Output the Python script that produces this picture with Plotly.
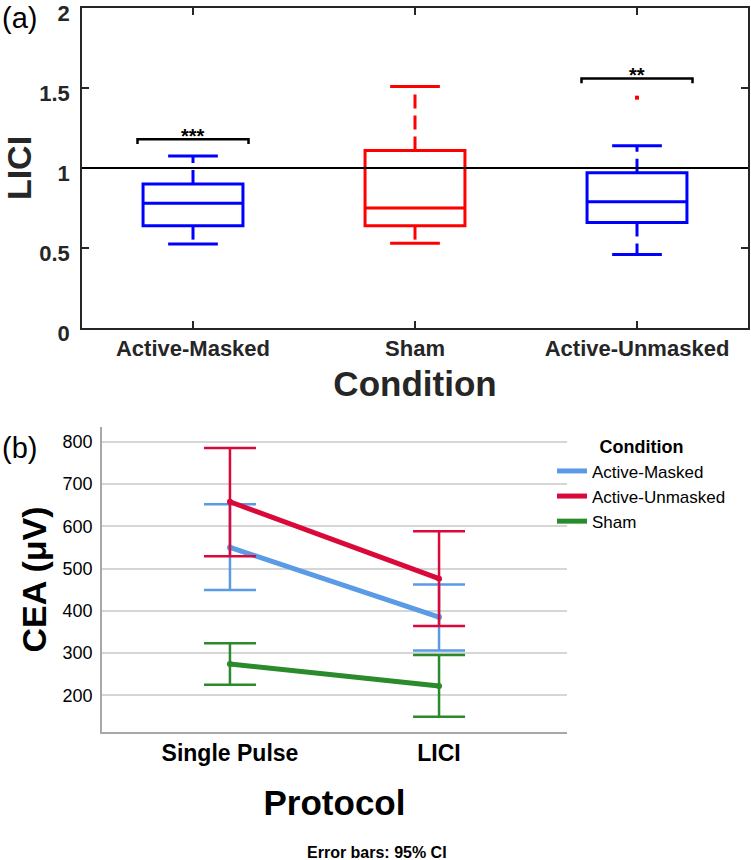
import plotly.graph_objects as go

# ---------------- Panel (a) data: LICI box plots ----------------
conditions_a = ["Active-Masked", "Sham", "Active-Unmasked"]
positions_a = [1, 2, 3]
box_colors = ["#0000FF", "#FF0000", "#0000FF"]
lici_q1 = [0.64, 0.64, 0.66]
lici_median = [0.78, 0.75, 0.79]
lici_q3 = [0.90, 1.11, 0.97]
lici_lower = [0.525, 0.53, 0.46]
lici_upper = [1.075, 1.51, 1.14]
outlier_pos = [3]
outlier_val = [1.44]
reference_line = 1.0
sig_pos = [1, 3]
sig_level = [1.18, 1.56]
sig_text = ["***", "**"]
yticks_a = [0, 0.5, 1, 1.5, 2]
yticktext_a = ["0", "0.5", "1", "1.5", "2"]

# ---------------- Panel (b) data: CEA means with 95% CI ----------------
protocols = ["Single Pulse", "LICI"]
groups_b = ["Active-Masked", "Active-Unmasked", "Sham"]
colors_b = ["#5B9BE6", "#D90A3A", "#2B8A2B"]
cea_mean = {
    "Active-Masked": [550, 385],
    "Active-Unmasked": [658, 476],
    "Sham": [274, 222],
}
cea_upper = {
    "Active-Masked": [652, 462],
    "Active-Unmasked": [785, 588],
    "Sham": [323, 295],
}
cea_lower = {
    "Active-Masked": [449, 306],
    "Active-Unmasked": [529, 364],
    "Sham": [225, 149],
}
yticks_b = [200, 300, 400, 500, 600, 700, 800]

W, H = 751, 860
FONT = "Liberation Sans, Arial, sans-serif"
AX_A = "#262626"

fig = go.Figure()

# ---- boxes (panel a) ----
box_w = 0.45
cap_half = 0.112
for i, cond in enumerate(conditions_a):
    c = positions_a[i]
    col = box_colors[i]
    fig.add_trace(go.Box(
        x=[c], q1=[lici_q1[i]], median=[lici_median[i]], q3=[lici_q3[i]],
        lowerfence=[lici_q1[i]], upperfence=[lici_q3[i]],
        width=box_w, whiskerwidth=0, boxpoints=False,
        line=dict(color=col, width=3), fillcolor="rgba(0,0,0,0)",
        name=cond, showlegend=False, xaxis="x", yaxis="y", hoverinfo="skip"))
    # dashed whiskers
    fig.add_trace(go.Scatter(
        x=[c, c, None, c, c],
        y=[lici_q3[i], lici_upper[i], None, lici_q1[i], lici_lower[i]],
        mode="lines", line=dict(color=col, width=3, dash="14px,7px"),
        showlegend=False, xaxis="x", yaxis="y", hoverinfo="skip"))
    # caps
    fig.add_trace(go.Scatter(
        x=[c - cap_half, c + cap_half, None, c - cap_half, c + cap_half],
        y=[lici_upper[i], lici_upper[i], None, lici_lower[i], lici_lower[i]],
        mode="lines", line=dict(color=col, width=3),
        showlegend=False, xaxis="x", yaxis="y", hoverinfo="skip"))

fig.add_trace(go.Scatter(
    x=outlier_pos, y=outlier_val, mode="markers",
    marker=dict(color="#FF0000", size=4, symbol="square"),
    showlegend=False, xaxis="x", yaxis="y", hoverinfo="skip"))

# significance brackets
br_half = 0.25
br_drop = 0.03
for p, lvl, txt in zip(sig_pos, sig_level, sig_text):
    fig.add_trace(go.Scatter(
        x=[p - br_half, p - br_half, p + br_half, p + br_half],
        y=[lvl - br_drop, lvl, lvl, lvl - br_drop],
        mode="lines", line=dict(color="black", width=2.5),
        showlegend=False, xaxis="x", yaxis="y", hoverinfo="skip"))
    fig.add_annotation(x=p, y=lvl, xref="x", yref="y", text=txt,
                       showarrow=False, yanchor="bottom", yshift=-10,
                       font=dict(family=FONT, size=20, color="black", weight="bold"))

fig.add_shape(type="line", xref="x domain", yref="y", x0=0, x1=1,
              y0=reference_line, y1=reference_line,
              line=dict(color="black", width=2))

# ---- panel b ----
for g, col in zip(groups_b, colors_b):
    m = cea_mean[g]
    up = [u - v for u, v in zip(cea_upper[g], m)]
    lo = [v - l for v, l in zip(m, cea_lower[g])]
    fig.add_trace(go.Scatter(
        x=[0, 1], y=m, mode="lines+markers", name=g, legendgroup=g,
        line=dict(color=col, width=5), marker=dict(color=col, size=6),
        error_y=dict(type="data", symmetric=False, array=up, arrayminus=lo,
                     color=col, thickness=2.5, width=26),
        showlegend=False, xaxis="x2", yaxis="y2"))
for g, col in zip(groups_b, colors_b):
    fig.add_trace(go.Scatter(
        x=[None], y=[None], mode="lines", name=g, legendgroup=g,
        line=dict(color=col, width=5), showlegend=True,
        xaxis="x2", yaxis="y2"))

def px_x(v):
    return v / W

def px_y(v):
    return 1 - v / H

fig.update_layout(
    width=W, height=H,
    margin=dict(l=0, r=0, t=0, b=0),
    paper_bgcolor="white", plot_bgcolor="white",
    font=dict(family=FONT, color="black"),
    xaxis=dict(
        domain=[px_x(82), px_x(748)], range=[0.5, 3.5], anchor="y",
        tickvals=positions_a, ticktext=conditions_a,
        ticks="inside", ticklen=7, tickwidth=1.5, tickcolor=AX_A,
        showline=True, linecolor=AX_A, linewidth=1.5, mirror="ticks",
        showgrid=False, zeroline=False, automargin=False,
        tickfont=dict(family=FONT, size=22, color=AX_A, weight="bold"),
        title=dict(text="Condition", standoff=11,
                   font=dict(family=FONT, size=35, color=AX_A, weight="bold"))),
    yaxis=dict(
        domain=[px_y(328), px_y(8)], range=[0, 2.0005], anchor="x",
        tickvals=yticks_a, ticktext=yticktext_a,
        ticks="inside", ticklen=7, tickwidth=1.5, tickcolor=AX_A,
        showline=True, linecolor=AX_A, linewidth=1.5, mirror="ticks",
        showgrid=False, zeroline=False, automargin=False,
        ticklabelstandoff=6, ticklabeloverflow="allow", ticklabelshift=5,
        tickfont=dict(family=FONT, size=22, color=AX_A, weight="bold"),
        title=dict(text="LICI", standoff=8,
                   font=dict(family=FONT, size=34, color=AX_A, weight="bold"))),
    xaxis2=dict(
        domain=[px_x(102), px_x(567)], range=[-0.612, 1.612], anchor="y2",
        tickvals=[0, 1], ticktext=protocols, ticks="",
        showline=True, linecolor="#A8A8A8", linewidth=1.5,
        showgrid=False, zeroline=False, automargin=False,
        tickfont=dict(family=FONT, size=23, color="black", weight="bold"),
        title=dict(text="Protocol", standoff=25,
                   font=dict(family=FONT, size=35, color="black", weight="bold"))),
    yaxis2=dict(
        domain=[px_y(732), px_y(427)], range=[113, 835], anchor="x2",
        tickvals=yticks_b, ticks="",
        showline=True, linecolor="#A8A8A8", linewidth=1.5,
        showgrid=True, gridcolor="#D6D6D6", gridwidth=1.5,
        zeroline=False, automargin=False, ticklabelstandoff=4,
        tickfont=dict(family=FONT, size=18, color="black"),
        title=dict(text="CEA (μV)", standoff=6,
                   font=dict(family=FONT, size=34, color="black", weight="bold"))),
    legend=dict(
        x=px_x(552), xanchor="left", y=px_y(430), yanchor="top",
        bgcolor="rgba(0,0,0,0)", borderwidth=0, itemwidth=30,
        tracegroupgap=0,
        font=dict(family=FONT, size=17, color="black"),
        title=dict(text="Condition", side="top center",
                   font=dict(family=FONT, size=18, color="black", weight="bold"))),
)

fig.add_annotation(x=0, y=px_y(18), xref="paper", yref="paper", text="(a)",
                   showarrow=False, xanchor="left", yanchor="middle",
                   font=dict(family=FONT, size=29, color="black"))
fig.add_annotation(x=0, y=px_y(448), xref="paper", yref="paper", text="(b)",
                   showarrow=False, xanchor="left", yanchor="middle",
                   font=dict(family=FONT, size=29, color="black"))
fig.add_annotation(x=px_x(377), y=px_y(852), xref="paper", yref="paper",
                   text="Error bars: 95% CI", showarrow=False,
                   xanchor="center", yanchor="middle",
                   font=dict(family=FONT, size=16, color="black", weight="bold"))

fig.write_html("out.html",
               config={"displayModeBar": False},
               post_script="document.body.style.margin='0px';"
                           "document.body.style.overflow='hidden';")
